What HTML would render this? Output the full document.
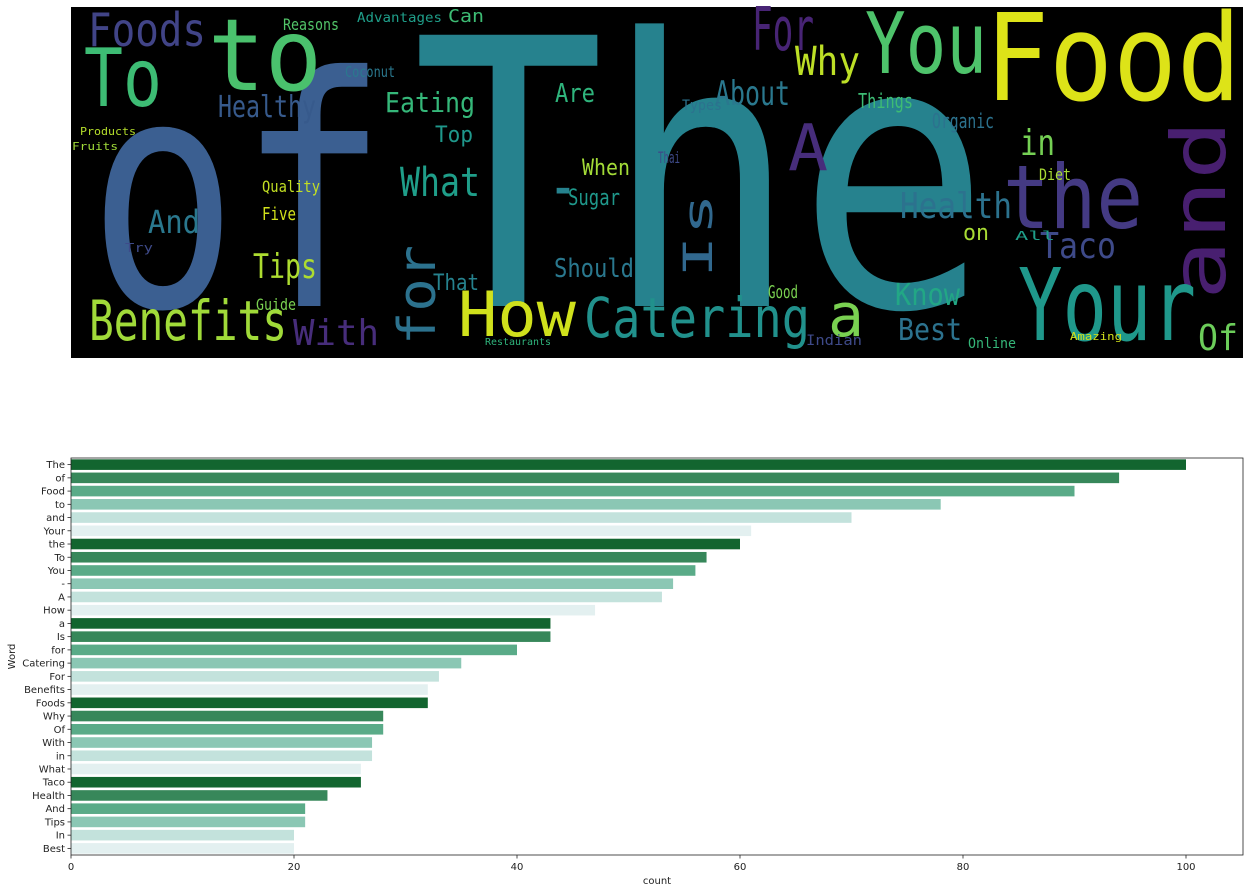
<!DOCTYPE html>
<html><head><meta charset="utf-8"><style>
body{margin:0;background:#fff;width:1249px;height:893px;overflow:hidden}
svg{position:absolute;left:0;top:0}
.wc text{font-family:"DejaVu Sans Mono","Liberation Mono",monospace}
.ax text{font-family:"DejaVu Sans","Liberation Sans",sans-serif;font-size:10px;fill:#222}
</style></head><body>
<svg width="1249" height="893">
<g class="wc">
<rect x="71" y="7" width="1172" height="351" fill="#000"/>
<text x="88" y="306" font-size="320" fill="#3b5f91" textLength="300" lengthAdjust="spacingAndGlyphs">of</text>
<text x="412" y="306" font-size="372" fill="#26828e" textLength="578" lengthAdjust="spacingAndGlyphs">The</text>
<text x="985" y="100" font-size="120" fill="#dde318" textLength="256" lengthAdjust="spacingAndGlyphs">Food</text>
<text x="208" y="90" font-size="100" fill="#4ac16d" textLength="114" lengthAdjust="spacingAndGlyphs">to</text>
<text x="84" y="106" font-size="80" fill="#3dbc74" textLength="78" lengthAdjust="spacingAndGlyphs">To</text>
<text x="865" y="73" font-size="85" fill="#4ec36b" textLength="122" lengthAdjust="spacingAndGlyphs">You</text>
<text x="1003" y="228" font-size="88" fill="#443a83" textLength="140" lengthAdjust="spacingAndGlyphs">the</text>
<text transform="translate(1225,300) rotate(-90)" font-size="75" fill="#481f70" textLength="180" lengthAdjust="spacingAndGlyphs">and</text>
<text x="1018" y="340" font-size="100" fill="#1f988b" textLength="178" lengthAdjust="spacingAndGlyphs">Your</text>
<text x="458" y="336" font-size="62" fill="#d0e11c" textLength="118" lengthAdjust="spacingAndGlyphs">How</text>
<text x="584" y="337" font-size="55" fill="#21918c" textLength="226" lengthAdjust="spacingAndGlyphs">Catering</text>
<text x="828" y="336" font-size="60" fill="#7ad151" textLength="36" lengthAdjust="spacingAndGlyphs">a</text>
<text x="89" y="340" font-size="55" fill="#a0da39" textLength="198" lengthAdjust="spacingAndGlyphs">Benefits</text>
<text x="788" y="170" font-size="64" fill="#472d7b" textLength="40" lengthAdjust="spacingAndGlyphs">A</text>
<text x="548" y="210" font-size="70" fill="#26828e" textLength="30" lengthAdjust="spacingAndGlyphs">-</text>
<text x="88" y="46" font-size="46" fill="#414487" textLength="118" lengthAdjust="spacingAndGlyphs">Foods</text>
<text x="752" y="50" font-size="60" fill="#482475" textLength="62" lengthAdjust="spacingAndGlyphs">For</text>
<text x="795" y="75" font-size="40" fill="#bddf26" textLength="65" lengthAdjust="spacingAndGlyphs">Why</text>
<text x="715" y="105" font-size="34" fill="#2a788e" textLength="75" lengthAdjust="spacingAndGlyphs">About</text>
<text x="218" y="117" font-size="30" fill="#375a8c" textLength="98" lengthAdjust="spacingAndGlyphs">Healthy</text>
<text x="385" y="112" font-size="28" fill="#35b779" textLength="90" lengthAdjust="spacingAndGlyphs">Eating</text>
<text x="400" y="196" font-size="40" fill="#1f9e89" textLength="80" lengthAdjust="spacingAndGlyphs">What</text>
<text x="148" y="233" font-size="32" fill="#2a788e" textLength="52" lengthAdjust="spacingAndGlyphs">And</text>
<text x="253" y="278" font-size="34" fill="#addc30" textLength="64" lengthAdjust="spacingAndGlyphs">Tips</text>
<text x="293" y="345" font-size="36" fill="#472d7b" textLength="86" lengthAdjust="spacingAndGlyphs">With</text>
<text transform="translate(435,345) rotate(-90)" font-size="52" fill="#2c728e" textLength="100" lengthAdjust="spacingAndGlyphs">for</text>
<text transform="translate(712,278) rotate(-90)" font-size="40" fill="#31688e" textLength="85" lengthAdjust="spacingAndGlyphs">Is</text>
<text x="900" y="218" font-size="36" fill="#2c728e" textLength="112" lengthAdjust="spacingAndGlyphs">Health</text>
<text x="1040" y="258" font-size="36" fill="#3e4a89" textLength="76" lengthAdjust="spacingAndGlyphs">Taco</text>
<text x="895" y="305" font-size="30" fill="#22a785" textLength="65" lengthAdjust="spacingAndGlyphs">Know</text>
<text x="898" y="340" font-size="30" fill="#2c728e" textLength="64" lengthAdjust="spacingAndGlyphs">Best</text>
<text x="1020" y="155" font-size="36" fill="#75d054" textLength="35" lengthAdjust="spacingAndGlyphs">in</text>
<text x="1198" y="350" font-size="36" fill="#6ccd5a" textLength="40" lengthAdjust="spacingAndGlyphs">Of</text>
<text x="554" y="277" font-size="26" fill="#2a788e" textLength="80" lengthAdjust="spacingAndGlyphs">Should</text>
<text x="582" y="175" font-size="22" fill="#a2da37" textLength="48" lengthAdjust="spacingAndGlyphs">When</text>
<text x="568" y="205" font-size="22" fill="#1f988b" textLength="52" lengthAdjust="spacingAndGlyphs">Sugar</text>
<text x="555" y="102" font-size="26" fill="#2fb47c" textLength="40" lengthAdjust="spacingAndGlyphs">Are</text>
<text x="435" y="142" font-size="22" fill="#1f988b" textLength="38" lengthAdjust="spacingAndGlyphs">Top</text>
<text x="433" y="290" font-size="22" fill="#26828e" textLength="46" lengthAdjust="spacingAndGlyphs">That</text>
<text x="963" y="240" font-size="22" fill="#a8db34" textLength="26" lengthAdjust="spacingAndGlyphs">on</text>
<text x="932" y="128" font-size="20" fill="#2c728e" textLength="62" lengthAdjust="spacingAndGlyphs">Organic</text>
<text x="858" y="108" font-size="20" fill="#3dbc74" textLength="55" lengthAdjust="spacingAndGlyphs">Things</text>
<text x="262" y="192" font-size="16" fill="#c2df23" textLength="58" lengthAdjust="spacingAndGlyphs">Quality</text>
<text x="262" y="220" font-size="18" fill="#d2e21b" textLength="34" lengthAdjust="spacingAndGlyphs">Five</text>
<text x="256" y="310" font-size="16" fill="#7ad151" textLength="40" lengthAdjust="spacingAndGlyphs">Guide</text>
<text x="283" y="30" font-size="16" fill="#52c569" textLength="56" lengthAdjust="spacingAndGlyphs">Reasons</text>
<text x="345" y="77" font-size="15" fill="#2a788e" textLength="50" lengthAdjust="spacingAndGlyphs">Coconut</text>
<text x="357" y="22" font-size="13" fill="#1f9e89" textLength="85" lengthAdjust="spacingAndGlyphs">Advantages</text>
<text x="448" y="22" font-size="18" fill="#3dbc74" textLength="36" lengthAdjust="spacingAndGlyphs">Can</text>
<text x="682" y="110" font-size="14" fill="#2c728e" textLength="40" lengthAdjust="spacingAndGlyphs">Types</text>
<text x="658" y="163" font-size="16" fill="#3e4a89" textLength="22" lengthAdjust="spacingAndGlyphs">Thai</text>
<text x="1015" y="240" font-size="12" fill="#1f9e89" textLength="40" lengthAdjust="spacingAndGlyphs">All</text>
<text x="968" y="348" font-size="14" fill="#35b779" textLength="48" lengthAdjust="spacingAndGlyphs">Online</text>
<text x="806" y="345" font-size="14" fill="#3e4a89" textLength="56" lengthAdjust="spacingAndGlyphs">Indian</text>
<text x="768" y="298" font-size="18" fill="#7ad151" textLength="30" lengthAdjust="spacingAndGlyphs">Good</text>
<text x="1039" y="180" font-size="16" fill="#a8db34" textLength="32" lengthAdjust="spacingAndGlyphs">Diet</text>
<text x="125" y="252" font-size="12" fill="#3e4a89" textLength="28" lengthAdjust="spacingAndGlyphs">Try</text>
<text x="80" y="135" font-size="11" fill="#b5de2b" textLength="56" lengthAdjust="spacingAndGlyphs">Products</text>
<text x="72" y="150" font-size="11" fill="#a0da39" textLength="46" lengthAdjust="spacingAndGlyphs">Fruits</text>
<text x="1070" y="340" font-size="11" fill="#d0e11c" textLength="52" lengthAdjust="spacingAndGlyphs">Amazing</text>
<text x="485" y="345" font-size="10" fill="#2fb47c" textLength="66" lengthAdjust="spacingAndGlyphs">Restaurants</text>
</g>
<g class="ax" id="chart"></g>
</svg>
<script>
const words = ["The","of","Food","to","and","Your","the","To","You","-","A","How","a","Is","for","Catering","For","Benefits","Foods","Why","Of","With","in","What","Taco","Health","And","Tips","In","Best"];
const counts = [100,94,90,78,70,61,60,57,56,54,53,47,43,43,40,35,33,32,32,28,28,27,27,26,26,23,21,21,20,20];
const ticks = [0,20,40,60,80,100];
const palette = ["#12652f","#37875a","#5aab88","#8bc7b4","#c3e2dc","#e3f0f0"];
const NS="http://www.w3.org/2000/svg";
const g=document.getElementById('chart');
const L=71,R=1243,T=458,B=855;
const xS=v=>L+v*(1186-71)/100;
const band=(B-T)/words.length;
const yS=i=>T+band*(i+0.5);
function mk(t,a){const e=document.createElementNS(NS,t);for(const k in a)e.setAttribute(k,a[k]);g.appendChild(e);return e;}
words.forEach((w,i)=>{
  const r=mk('rect',{x:L,y:yS(i)-band*0.4,width:xS(counts[i])-L,height:band*0.8,fill:palette[i%6]});
  
  
  const tk=mk('line',{x1:L-3.5,x2:L,y1:yS(i),y2:yS(i),stroke:'#222','stroke-width':0.8});
  
  
  const t=mk('text',{x:L-6,y:yS(i)+3.5,'text-anchor':'end'});
  t.textContent=w;
  
  
});
ticks.forEach(v=>{
  const tk=mk('line',{x1:xS(v),x2:xS(v),y1:B,y2:B+3.5,stroke:'#222','stroke-width':0.8});
  
  
  const t=mk('text',{x:xS(v),y:B+15,'text-anchor':'middle'});
  t.textContent=v;
  
  
});
const box=mk('rect',{x:L,y:T,width:R-L,height:B-T,fill:'none',stroke:'#222','stroke-width':0.8});


const xt=mk('text',{x:(L+R)/2,y:884,'text-anchor':'middle'});
xt.textContent='count';


const yt=mk('text',{transform:'translate(15,'+((T+B)/2)+') rotate(-90)','text-anchor':'middle'});
yt.textContent='Word';


</script>
</body></html>
